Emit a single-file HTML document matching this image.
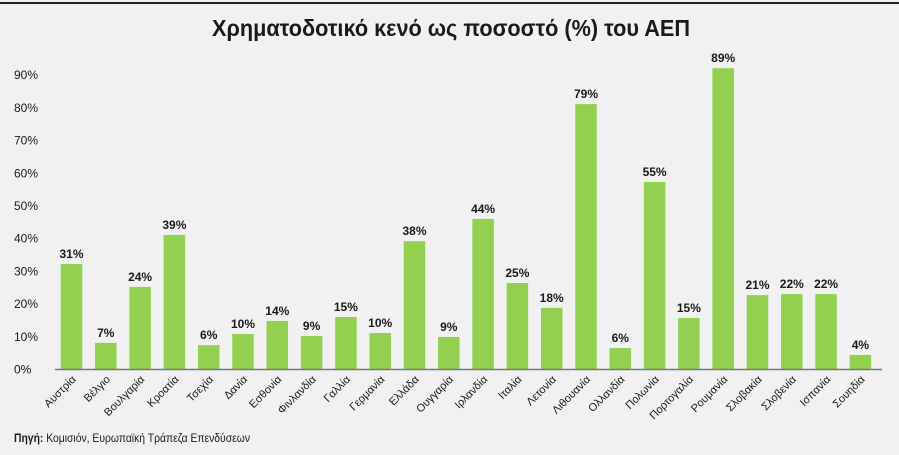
<!DOCTYPE html>
<html><head><meta charset="utf-8"><style>
body{margin:0;background:#f1f1f1;}
svg{display:block;font-family:"Liberation Sans",sans-serif;}
</style></head><body>
<svg width="899" height="455">
<rect x="0" y="0" width="899" height="455" fill="#f1f1f1"/>
<line x1="0" y1="3" x2="899" y2="3" stroke="#222" stroke-width="2"/>
<text x="451" y="36" text-anchor="middle" font-size="23" font-weight="bold" fill="#1a1a1a" textLength="478" lengthAdjust="spacingAndGlyphs">Χρηματοδοτικό κενό ως ποσοστό (%) του ΑΕΠ</text>
<g id="yaxis"></g>
<g id="bars"></g>
<line x1="55" y1="369.5" x2="882" y2="369.5" stroke="#777" stroke-width="1.5"/>
<text x="14" y="442" font-size="12" fill="#1a1a1a" textLength="236" lengthAdjust="spacingAndGlyphs"><tspan font-weight="bold">Πηγή:</tspan> Κομισιόν, Ευρωπαϊκή Τράπεζα Επενδύσεων</text>
</svg>
<script>
const categories=["Αυστρία","Βέλγιο","Βουλγαρία","Κροατία","Τσεχία","Δανία","Εσθονία","Φινλανδία","Γαλλία","Γερμανία","Ελλάδα","Ουγγαρία","Ιρλανδία","Ιταλία","Λετονία","Λιθουανία","Ολλανδία","Πολωνία","Πορτογαλία","Ρουμανία","Σλοβακία","Σλοβενία","Ισπανία","Σουηδία"];
const values=[32.1,8.0,25.1,41.0,7.3,10.7,14.7,10.1,15.9,11.0,39.1,9.8,45.9,26.3,18.7,81.0,6.4,57.2,15.6,92.0,22.6,22.9,22.9,4.3];
const valueLabels=["31%","7%","24%","39%","6%","10%","14%","9%","15%","10%","38%","9%","44%","25%","18%","79%","6%","55%","15%","89%","21%","22%","22%","4%"];
const yTicks=[0,10,20,30,40,50,60,70,80,90];
const yTickLabels=["0%","10%","20%","30%","40%","50%","60%","70%","80%","90%"];
const NS="http://www.w3.org/2000/svg";
const y0=369,pxPer=3.27;
const y=v=>y0-v*pxPer;
const x=i=>71.5+i*34.3;
const bw=21.5;
const ya=document.getElementById('yaxis'),bg=document.getElementById('bars');
yTicks.forEach((t,i)=>{const e=document.createElementNS(NS,'text');


e.setAttribute('x',14);e.setAttribute('y',y(t)+4.5);e.setAttribute('font-size','12');e.setAttribute('fill','#1a1a1a');
e.textContent=yTickLabels[i];ya.appendChild(e);});
categories.forEach((c,i)=>{
const r=document.createElementNS(NS,'rect');


r.setAttribute('x',x(i)-bw/2);r.setAttribute('y',y(values[i]));r.setAttribute('width',bw);r.setAttribute('height',y0-y(values[i]));r.setAttribute('fill','#92d050');bg.appendChild(r);
const l=document.createElementNS(NS,'text');


l.setAttribute('x',x(i));l.setAttribute('y',y(values[i])-6);l.setAttribute('text-anchor','middle');l.setAttribute('font-size','12');l.setAttribute('font-weight','bold');l.setAttribute('fill','#1a1a1a');
l.textContent=valueLabels[i];bg.appendChild(l);
const c2=document.createElementNS(NS,'text');


c2.setAttribute('font-size','11');c2.setAttribute('fill','#1a1a1a');c2.setAttribute('text-anchor','end');
c2.setAttribute('transform','translate('+(x(i)+5)+',380) rotate(-45)');
c2.textContent=c;bg.appendChild(c2);
});
</script>
</body></html>
